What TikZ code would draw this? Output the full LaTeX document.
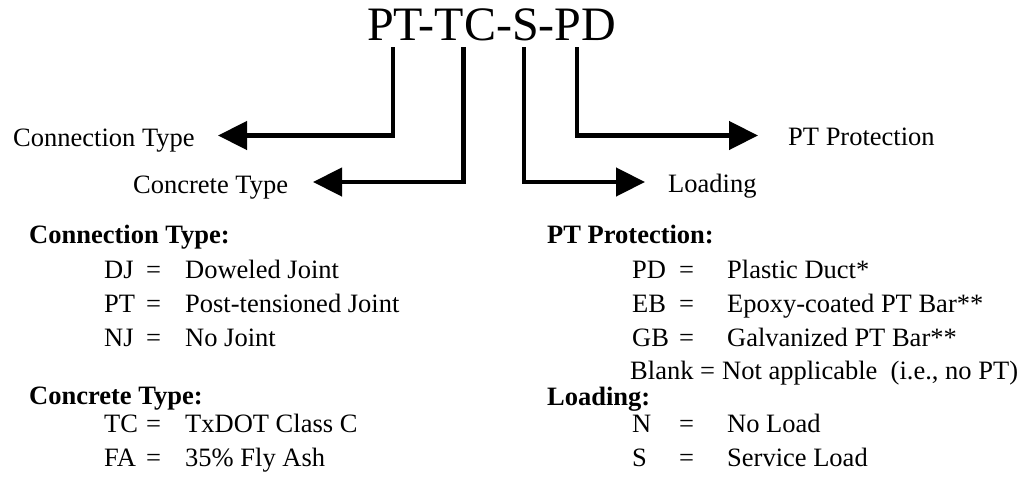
\documentclass[tikz,border=0pt]{standalone}
\usepackage{fontspec}
\setmainfont{Liberation Serif}
\usetikzlibrary{arrows.meta}
\begin{document}
\begin{tikzpicture}[x=1pt,y=-1pt,
  txt/.style={anchor=base west,inner sep=0pt,font=\fontsize{26.5}{30}\selectfont},
  hd/.style={anchor=base west,inner sep=0pt,font=\fontsize{26.5}{30}\selectfont\bfseries},
  conn/.style={line width=4.5pt,line join=miter,-{Triangle[length=29pt,width=28pt]}}
]
\useasboundingbox (0,0) rectangle (1028,498);
% title
\node[anchor=base west,inner sep=0pt,font=\fontsize{48}{52}\selectfont] (title) at (367,40) {PT-TC-S-PD};
% connector tops and tips
\coordinate (s1) at (393,47);
\coordinate (s2) at (463.5,47);
\coordinate (s3) at (524,47);
\coordinate (s4) at (577,47);
\coordinate (t1) at (218,135.5);
\coordinate (t2) at (313,182);
\coordinate (t3) at (645,182);
\coordinate (t4) at (758,135.5);
% labels
\node[txt] (lblConn) at (13,146) {Connection Type};
\node[txt] (lblConc) at (133,193) {Concrete Type};
\node[txt] (lblLoad) at (668,192) {Loading};
\node[txt] (lblProt) at (788,145) {PT Protection};
% connectors
\draw[conn] (s1) |- (t1);
\draw[conn] (s2) |- (t2);
\draw[conn] (s3) |- (t3);
\draw[conn] (s4) |- (t4);
% left legend
\node[hd] (hConn) at (29,243) {Connection Type:};
\node[txt] (cDJ) at (104,278) {DJ};
\node[txt] (eDJ) at (146,278) {=};
\node[txt] (dDJ) at (185,278) {Doweled Joint};
\node[txt] (cPT) at (104,312) {PT};
\node[txt] (ePT) at (146,312) {=};
\node[txt] (dPT) at (185,312) {Post-tensioned Joint};
\node[txt] (cNJ) at (104,346) {NJ};
\node[txt] (eNJ) at (146,346) {=};
\node[txt] (dNJ) at (185,346) {No Joint};
\node[hd] (hConc) at (29,404) {Concrete Type:};
\node[txt] (cTC) at (104,432) {TC};
\node[txt] (eTC) at (146,432) {=};
\node[txt] (dTC) at (185,432) {TxDOT Class C};
\node[txt] (cFA) at (104,466) {FA};
\node[txt] (eFA) at (146,466) {=};
\node[txt] (dFA) at (185,466) {35\% Fly Ash};
% right legend
\node[hd] (hProt) at (547,243) {PT Protection:};
\node[txt] (cPD) at (632,278) {PD};
\node[txt] (ePD) at (679,278) {=};
\node[txt] (dPD) at (727,278) {Plastic Duct*};
\node[txt] (cEB) at (632,312) {EB};
\node[txt] (eEB) at (679,312) {=};
\node[txt] (dEB) at (727,312) {Epoxy-coated PT Bar**};
\node[txt] (cGB) at (632,346) {GB};
\node[txt] (eGB) at (679,346) {=};
\node[txt] (dGB) at (727,346) {Galvanized PT Bar**};
\node[txt] (cBl) at (630,379) {Blank};
\node[txt] (eBl) at (700,379) {=};
\node[txt] (dBl) at (722,379) {Not applicable\ \ (i.e., no PT)};
\node[hd] (hLoad) at (547,405) {Loading:};
\node[txt] (cN) at (632,432) {N};
\node[txt] (eN) at (679,432) {=};
\node[txt] (dN) at (727,432) {No Load};
\node[txt] (cS) at (632,466) {S};
\node[txt] (eS) at (679,466) {=};
\node[txt] (dS) at (727,466) {Service Load};
\end{tikzpicture}
\end{document}
